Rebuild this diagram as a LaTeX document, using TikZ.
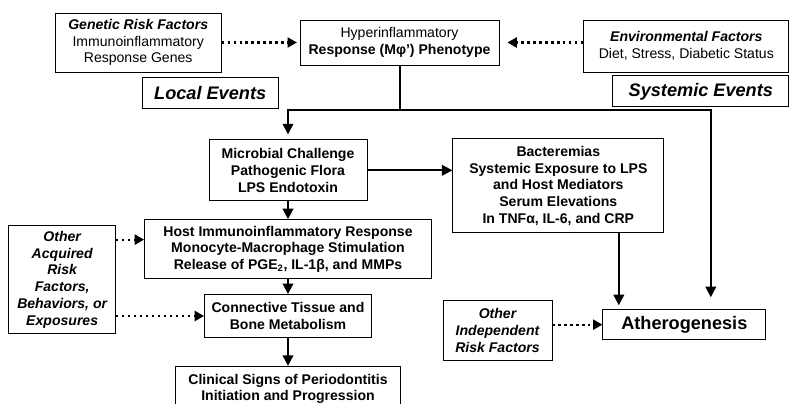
\documentclass[tikz,border=0pt]{standalone}
\usepackage{fontspec}
\setmainfont{Liberation Sans}
\usetikzlibrary{arrows.meta, positioning}

\newcommand{\boxfont}{\fontsize{12}{14.3}\selectfont}
\newcommand{\bigfont}{\fontsize{15.5}{18}\selectfont}
\newcommand{\bitext}[1]{\textbf{\textit{#1}}}

\tikzstyle{factor} = [rectangle, draw=black, line width=0.7pt, align=center, inner sep=0pt, font=\boxfont]
\tikzstyle{stage} = [factor, font=\boxfont\bfseries]
\tikzstyle{banner} = [rectangle, draw=black, line width=0.9pt, inner sep=0pt, font=\bigfont\bfseries\itshape]
\tikzstyle{arrow} = [line width=1.7pt, ->, >={Triangle[length=9pt, width=9pt]}]
\tikzstyle{dotarrow} = [line width=1.9pt, dash pattern=on 1.9pt off 3.2pt, ->, >={Triangle[length=8pt, width=8.5pt]}]
\tikzstyle{line} = [line width=1.7pt, -]

\begin{document}
\begin{tikzpicture}
\clip (0,0) rectangle (23.7,-12.09);

% Phenotype and the factors that modify it - top row
\node (hyper) [factor, minimum width=5.97cm, minimum height=1.35cm] at (11.985,-1.275) {Hyperinflammatory\\\textbf{Response (Mφ') Phenotype}};
\node (genetic) [factor, left=2.34cm of hyper, minimum width=4.98cm, minimum height=1.77cm] {\bitext{Genetic Risk Factors}\\Immunoinflammatory\\Response Genes};
\node (env) [factor, right=2.52cm of hyper, yshift=-0.105cm, minimum width=6.15cm, minimum height=1.56cm] {\bitext{Environmental Factors}\\Diet, Stress, Diabetic Status};

% Headings
\node (local) [banner, below=0.15cm of genetic, xshift=2.16cm, minimum width=4.08cm, minimum height=0.93cm] {Local Events};
\node (systemic) [banner, below=0.09cm of env, xshift=0.435cm, minimum width=5.28cm, minimum height=0.93cm] {Systemic Events};

% Local pathway
\node (microbial) [stage, below=2.22cm of hyper, xshift=-3.345cm, minimum width=4.74cm, minimum height=1.83cm] {Microbial Challenge\\Pathogenic Flora\\LPS Endotoxin};
\node (host) [stage, below=0.54cm of microbial, minimum width=8.61cm, minimum height=1.77cm] {Host Immunoinflammatory Response\\Monocyte-Macrophage Stimulation\\Release of PGE\textsubscript{2}, IL-1β, and MMPs};
\node (connective) [stage, below=0.45cm of host, minimum width=5.01cm, minimum height=1.29cm] {Connective Tissue and\\Bone Metabolism};
\node (clinical) [stage, below=0.84cm of connective, minimum width=6.75cm, minimum height=1.35cm] {Clinical Signs of Periodontitis\\Initiation and Progression};
\node (acquired) [factor, font=\boxfont\bfseries\itshape, left=0.84cm of host, yshift=-0.915cm, minimum width=3.21cm, minimum height=3.24cm] {Other\\Acquired\\Risk\\Factors,\\Behaviors, or\\Exposures};

% Systemic pathway
\node (bacter) [stage, right=2.55cm of microbial, yshift=-0.465cm, minimum width=6.33cm, minimum height=2.82cm] {Bacteremias\\Systemic Exposure to LPS\\and Host Mediators\\Serum Elevations\\In TNFα, IL-6, and CRP};
\node (athero) [stage, font=\bigfont\bfseries, below=2.28cm of bacter, xshift=3.78cm, minimum width=4.89cm, minimum height=0.9cm] {Atherogenesis};
\node (independent) [factor, font=\boxfont\bfseries\itshape, left=1.5cm of athero, yshift=-0.18cm, minimum width=3.27cm, minimum height=1.8cm] {Other\\Independent\\Risk Factors};

% Dotted arrows - modifying factors
\draw [dotarrow, shorten >=0.08cm] (genetic.east) -- (hyper.west);
\draw [dotarrow, shorten >=0.24cm] (env.west |- hyper.east) -- (hyper.east);
\coordinate (hostin) at ([yshift=0.285cm]host.west);
\draw [dotarrow] (acquired.east |- hostin) -- (hostin);
\draw [dotarrow] (acquired.east |- connective.west) -- (connective.west);
\draw [dotarrow] (independent.east |- athero.west) -- (athero.west);

% Phenotype splits into both pathways
\coordinate (split) at ([yshift=-1.35cm]hyper.south);
\draw [line] (hyper.south) -- (split);
\draw [arrow, shorten >=0.15cm] (split) -| (microbial.north);
\draw [arrow, shorten >=0.36cm] (split) -| ([xshift=0.795cm]athero.north);

% Local chain
\draw [arrow] (microbial) -- (host);
\draw [arrow] (host) -- (connective);
\draw [arrow] (connective) -- (clinical);
\draw [arrow] (microbial.east) -- (microbial.east -| bacter.west);

% Systemic chain
\coordinate (bactout) at ([xshift=1.815cm]bacter.south);
\draw [arrow, shorten >=0.12cm] (bactout) -- (bactout |- athero.north);

\end{tikzpicture}
\end{document}
